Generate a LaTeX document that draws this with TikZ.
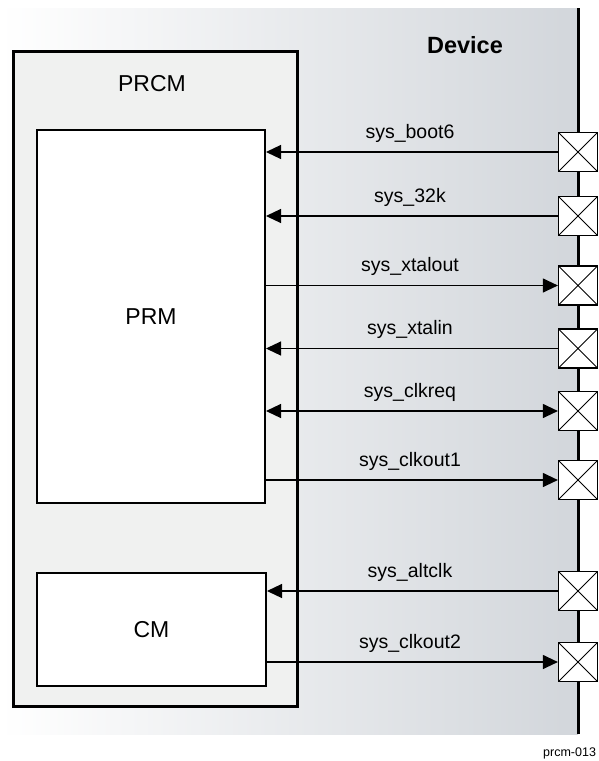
\documentclass[tikz,border=0pt]{standalone}
\usepackage{fontspec}
\setmainfont{Liberation Sans}
\usetikzlibrary{arrows.meta,shadings}
\definecolor{prcmfill}{HTML}{F0F1F0}
\definecolor{devgray}{HTML}{D2D6DB}
\tikzset{
  x=1pt,y=-1pt,
  blockbox/.style={draw=black,line width=2pt,fill=white,inner sep=0pt},
  padbox/.style={draw=black,line width=1.2pt,fill=white,minimum width=39pt,minimum height=39pt,inner sep=0pt,
    path picture={\draw[line width=0.8pt] (path picture bounding box.north west) -- (path picture bounding box.south east)
      (path picture bounding box.south west) -- (path picture bounding box.north east);}},
  sig/.style={line width=1.2pt},
  tip/.tip={Triangle[length=15pt,width=14pt]},
  siglabel/.style={anchor=base,font=\fontsize{19.5}{22}\selectfont,inner sep=0pt},
  blocklabel/.style={font=\fontsize{23}{26}\selectfont,inner sep=0pt}
}
\begin{document}
\begin{tikzpicture}
\useasboundingbox (0,0) rectangle (598,761);
% device background
\shade[left color=white,right color=devgray] (0,8) rectangle (578,734);
\draw[line width=3pt] (578,8) -- (578,734);
\node[font=\bfseries\fontsize{23.5}{26}\selectfont] (device) at (465,45) {Device};
% PRCM
\draw[line width=3pt,fill=prcmfill] (13,51) rectangle (297,706);
\node[blocklabel] (prcmlabel) at (152,84) {PRCM};
\node[blockbox,minimum width=228pt,minimum height=373pt] (prm) at (151,316.5) {};
\node[blocklabel] at (prm.center) {PRM};
\node[blockbox,minimum width=229pt,minimum height=113pt] (cm) at (151.5,629.5) {};
\node[blocklabel] at (cm.center) {CM};
% pads
\node[padbox] (p1) at (578,152) {};
\node[padbox] (p2) at (578,216) {};
\node[padbox] (p3) at (578,285.5) {};
\node[padbox] (p4) at (578,348.5) {};
\node[padbox] (p5) at (578,411) {};
\node[padbox] (p6) at (578,480) {};
\node[padbox] (p7) at (578,591) {};
\node[padbox] (p8) at (578,662) {};
% signals
\draw[sig,tip-] (prm.east |- p1.west) -- (p1.west);
\draw[sig,tip-] (prm.east |- p2.west) -- (p2.west);
\draw[sig,-tip] (prm.east |- p3.west) -- (p3.west);
\draw[sig,tip-] (prm.east |- p4.west) -- (p4.west);
\draw[sig,tip-tip] (prm.east |- p5.west) -- (p5.west);
\draw[sig,-tip] (prm.east |- p6.west) -- (p6.west);
\draw[sig,tip-] (cm.east |- p7.west) -- (p7.west);
\draw[sig,-tip] (cm.east |- p8.west) -- (p8.west);
% labels
\node[siglabel] (l1) at (410,138) {sys\_boot6};
\node[siglabel] (l2) at (410,202) {sys\_32k};
\node[siglabel] (l3) at (410,271.5) {sys\_xtalout};
\node[siglabel] (l4) at (410,334.5) {sys\_xtalin};
\node[siglabel] (l5) at (410,397) {sys\_clkreq};
\node[siglabel] (l6) at (410,466) {sys\_clkout1};
\node[siglabel] (l7) at (410,577) {sys\_altclk};
\node[siglabel] (l8) at (410,648) {sys\_clkout2};
% figure id
\node[anchor=base west,font=\fontsize{12.5}{14}\selectfont,inner sep=0pt] (figid) at (543,756) {prcm-013};
\end{tikzpicture}
\end{document}
